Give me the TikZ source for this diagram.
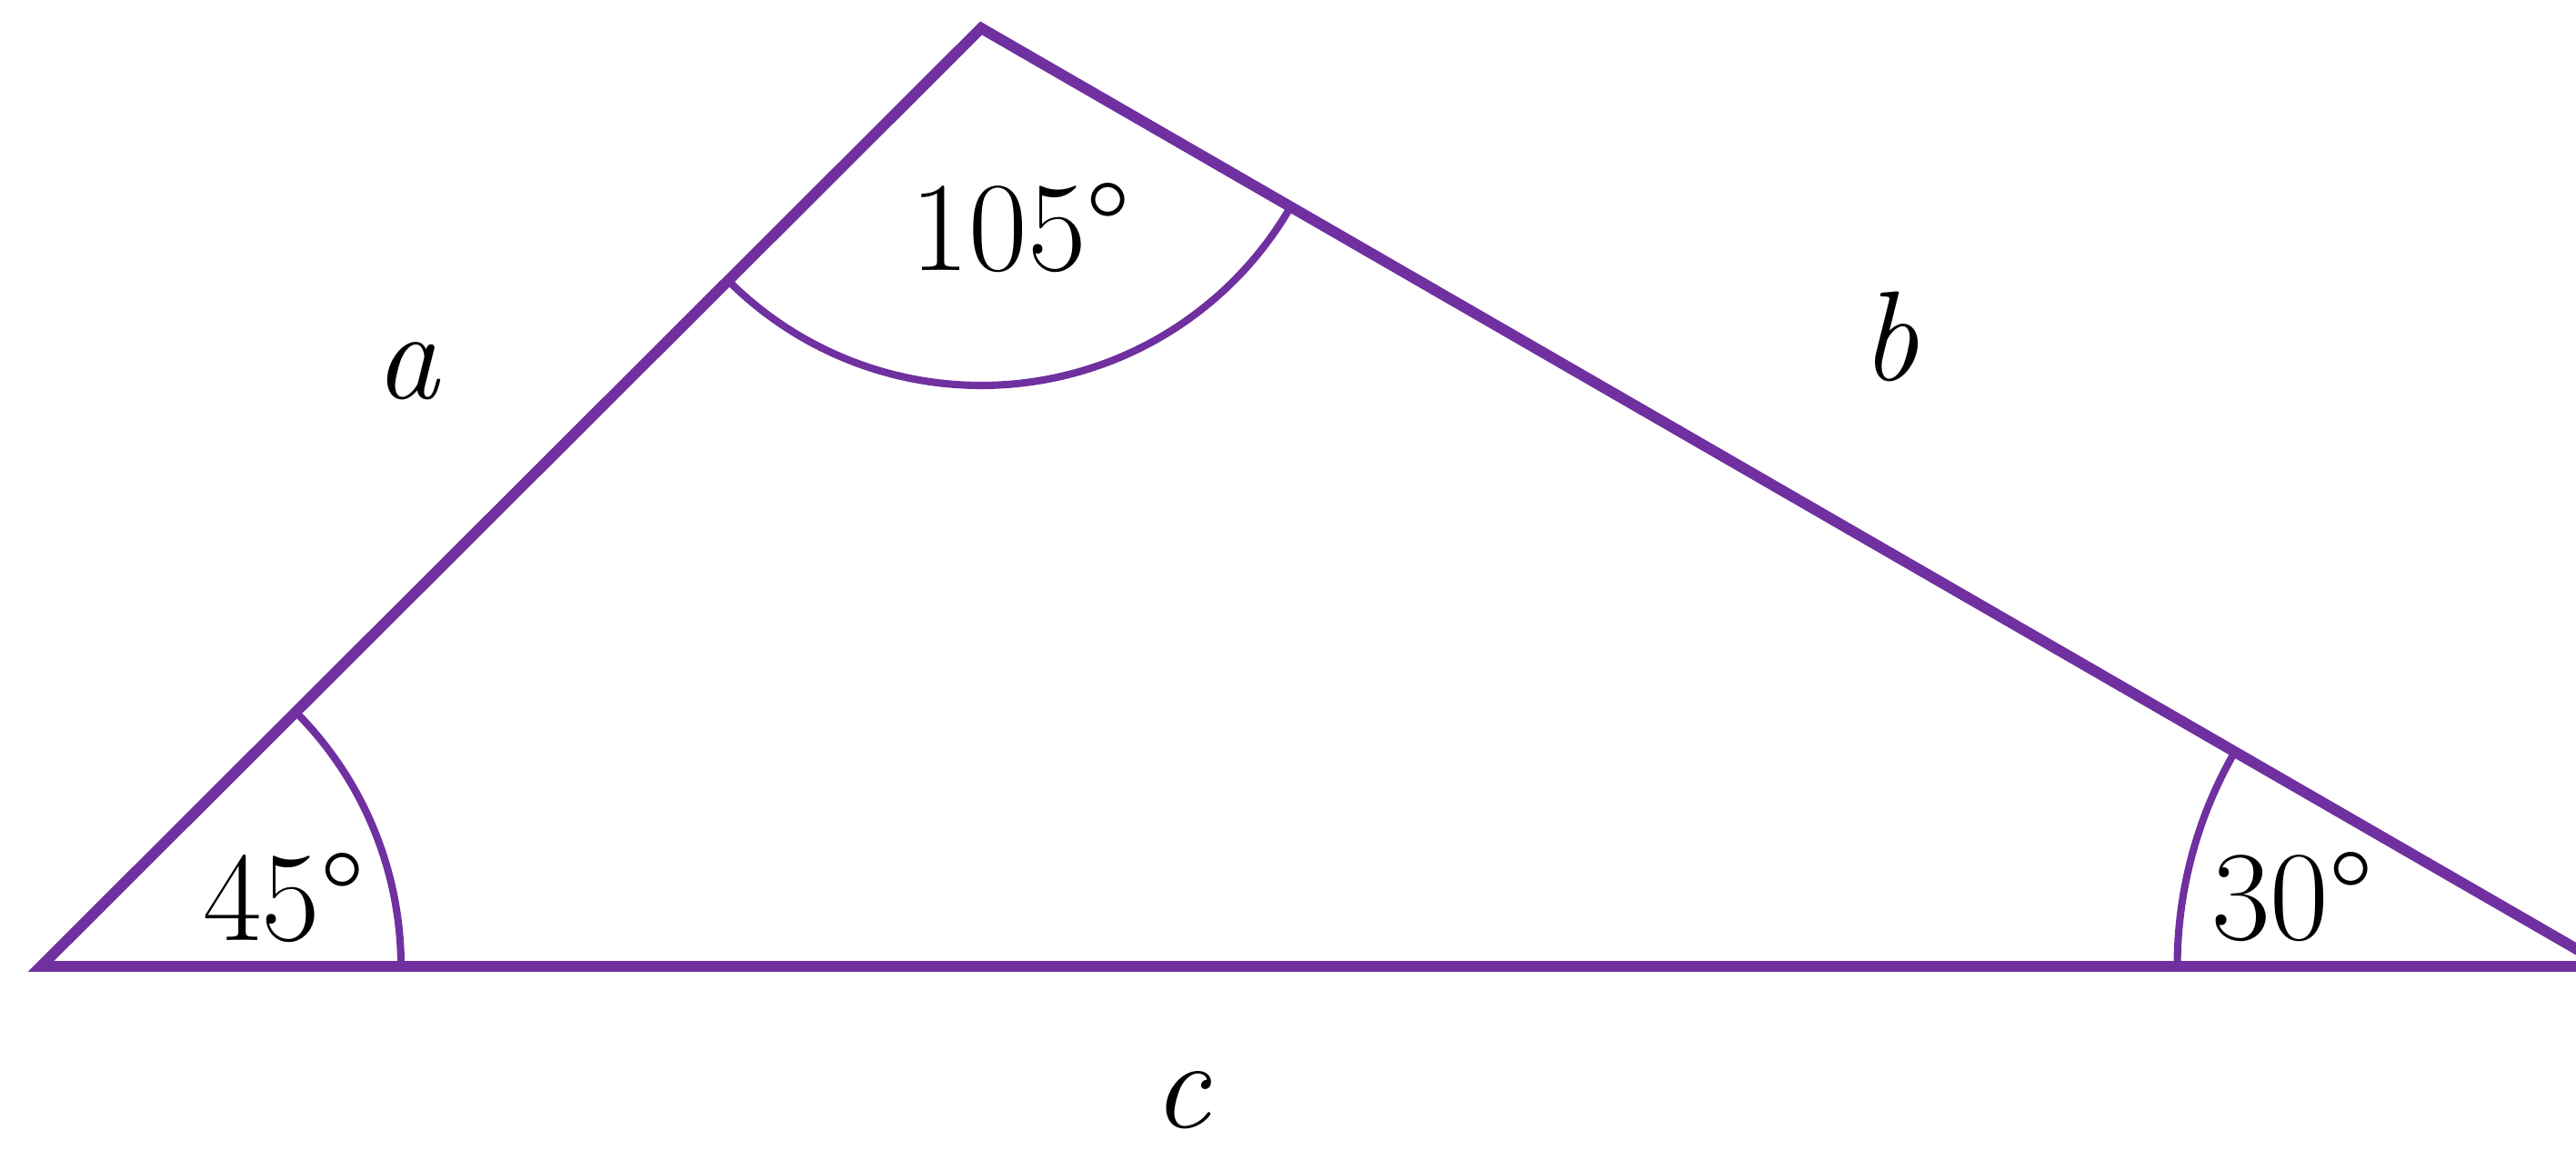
\documentclass[tikz,border=0pt]{standalone}
\usetikzlibrary{calc}
\definecolor{tripurple}{RGB}{112,48,160}
\begin{document}
\begin{tikzpicture}[
  side/.style={draw=tripurple, line width=3.4pt, line join=miter},
  anglearc/.style={draw=tripurple, line width=2.3pt},
  lbl/.style={inner sep=0pt, anchor=base, font=\fontsize{40}{48}\selectfont},
  var/.style={lbl, font=\fontsize{40}{48}\selectfont\itshape}
]
\useasboundingbox (0,0) rectangle (28.33,12.65);
\clip (0,0) rectangle (28.33,12.65);
\coordinate (A) at (0.45,2.02);
\coordinate (C) at (10.79,12.34);
\coordinate (B) at (28.665,2.02);
\draw[side] (A) -- (C) -- (B) -- cycle;
\draw[anglearc] ([shift={(0:3.96)}]A) arc[start angle=0, end angle=45, radius=3.96];
\draw[anglearc] ([shift={(150:4.72)}]B) arc[start angle=150, end angle=180, radius=4.72];
\draw[anglearc] ([shift={(225:3.93)}]C) arc[start angle=225, end angle=330, radius=3.93];
\node[lbl] (t105) at (11.22,9.67) {105°};
\node[lbl] (t45) at (3.12,2.30) {45°};
\node[lbl] (t30) at (25.21,2.31) {30°};
\node[var] (la) at (4.48,8.26) {a};
\node[var] (lb) at (20.78,8.46) {b};
\node[var] (lc) at (12.99,0.24) {c};
\end{tikzpicture}
\end{document}
